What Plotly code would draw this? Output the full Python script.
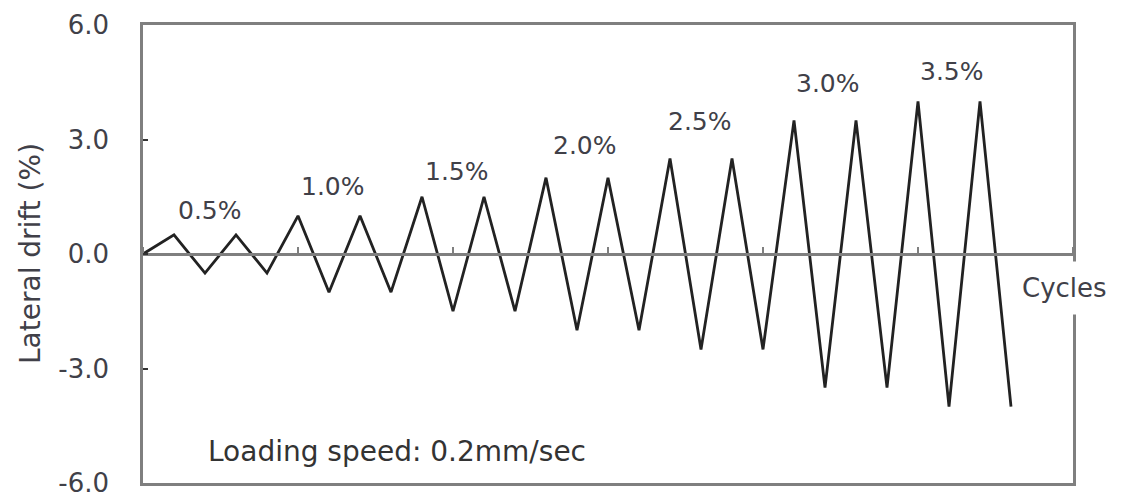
import plotly.graph_objects as go

# Data
cycle_index = list(range(29))
drift = [0, 0.5, -0.5, 0.5, -0.5, 1.0, -1.0, 1.0, -1.0, 1.5, -1.5, 1.5, -1.5,
         2.0, -2.0, 2.0, -2.0, 2.5, -2.5, 2.5, -2.5, 3.5, -3.5, 3.5, -3.5,
         4.0, -4.0, 4.0, -4.0]
level_labels = ["0.5%", "1.0%", "1.5%", "2.0%", "2.5%", "3.0%", "3.5%"]
level_x = [2.16, 6.13, 10.13, 14.26, 17.97, 22.1, 26.1]
level_y = [1.13, 1.78, 2.17, 2.83, 3.48, 4.47, 4.79]
y_ticks = [6.0, 3.0, 0.0, -3.0, -6.0]
y_tick_text = ["6.0", "3.0", "0.0", "-3.0", "-6.0"]

FONT = "DejaVu Sans"
AXC = "#7f7f7f"
TXT = "#404048"

fig = go.Figure()
fig.add_trace(go.Scatter(x=cycle_index, y=drift, mode="lines",
                         line=dict(color="#222222", width=2.8),
                         showlegend=False, hoverinfo="skip"))
# invisible trace on the zero-line axis so it is drawn
fig.add_trace(go.Scatter(x=[0], y=[0], xaxis="x2", mode="markers",
                         marker=dict(opacity=0), showlegend=False, hoverinfo="skip"))

for t, xx, yy in zip(level_labels, level_x, level_y):
    fig.add_annotation(x=xx, y=yy, text=t, showarrow=False,
                       xanchor="center", yanchor="middle",
                       font=dict(family=FONT, size=25, color=TXT))

fig.add_annotation(xref="paper", yref="paper", x=0.991, y=0.426, text="Cycles",
                   xanchor="center", yanchor="middle",
                   showarrow=False, bgcolor="white", borderpad=11,
                   font=dict(family=FONT, size=26, color=TXT))
fig.add_annotation(xref="paper", yref="paper", x=0.2726, y=0.068,
                   xanchor="center", yanchor="middle",
                   text="Loading speed: 0.2mm/sec", showarrow=False,
                   font=dict(family=FONT, size=28, color="#333333"))
fig.add_annotation(xref="paper", yref="paper", x=-0.1215, y=0.5,
                   xanchor="center", yanchor="middle",
                   text="Lateral drift (%)", textangle=-90, showarrow=False,
                   font=dict(family=FONT, size=28, color=TXT))

fig.update_layout(
    width=1121, height=500,
    margin=dict(l=135, r=56, t=17, b=25, autoexpand=False),
    plot_bgcolor="white", paper_bgcolor="white",
    xaxis=dict(range=[0, 30], showgrid=False, zeroline=False, automargin=False,
               showline=True, linecolor=AXC, linewidth=2.5, mirror=True,
               ticks="", showticklabels=False, fixedrange=True),
    xaxis2=dict(range=[0, 30], overlaying="x", anchor="free", position=0.5,
                side="top", showgrid=False, zeroline=False, automargin=False,
                showline=True, linecolor=AXC, linewidth=2.5,
                ticks="outside", ticklen=6, tickwidth=2, tickcolor=AXC,
                tick0=0, dtick=5, showticklabels=False),
    yaxis=dict(range=[-6, 6], tickvals=y_ticks, ticktext=y_tick_text,
               showgrid=False, zeroline=False, automargin=False,
               showline=True, linecolor=AXC, linewidth=2.5, mirror=True,
               ticks="inside", ticklen=5, tickwidth=1.5, tickcolor="#333333",
               ticklabelstandoff=26,
               tickfont=dict(family=FONT, size=26, color=TXT)),
)
fig.write_html("out.html")
